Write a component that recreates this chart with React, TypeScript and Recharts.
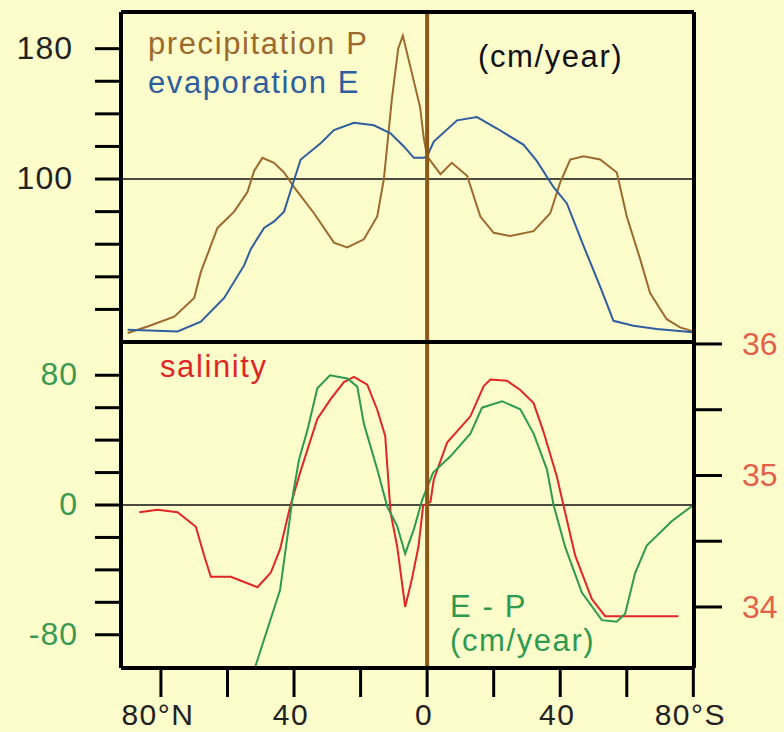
import { LineChart, Line, XAxis, YAxis, ReferenceLine } from 'recharts'

// latitude: negative = north, positive = south
const precipLat = [-90, -84, -76, -70, -68, -63, -58, -54, -52, -49.5, -46, -43, -40, -34, -28, -24, -19, -15, -13, -10.6, -8.7, -7.3, -2.1, -1, 0, 4, 7.4, 12, 16, 20, 25, 32, 37, 40, 43, 47, 52, 57, 60, 64, 67, 72, 76, 80]
const precipCm = [5.5, 9.5, 15.5, 27, 43, 70, 80, 92, 105, 113, 110, 104, 95, 79, 61, 58, 63, 77, 100, 149, 180, 188, 144, 125, 114, 103, 110, 102, 77, 67, 65, 68, 79, 98, 112, 114, 112, 104, 77, 51, 30, 14, 9, 6.5]

const evapLat = [-90, -75, -68, -61, -55, -53, -49, -46, -43, -41, -38, -32, -28, -22, -16, -11, -7, -4, -1, 0, 2, 9, 15, 21, 29, 33, 38, 42, 47, 52, 56, 62, 69, 80]
const evapCm = [7.5, 6.5, 12.5, 27, 47, 57, 70, 74, 80, 93, 112, 122, 130, 134.5, 133, 128, 120, 113, 113, 114, 123, 136, 138, 131, 121, 111, 95, 85, 59, 34, 13, 10, 8, 6]

const epLat = [-51.7, -44.2, -41.7, -40.2, -38.5, -36, -33, -29.2, -24, -21, -19, -15, -12, -9, -6.6, -4, -1.5, 1.8, 7, 13, 16.5, 22.5, 28, 32, 36, 38, 41.5, 46.5, 52.5, 57, 59.5, 62.5, 66, 73.5, 80]
const epCm = [-100, -52.5, -15, 8, 28, 46, 72, 80, 78, 73, 50, 22, -1, -13, -30, -15, 3, 20, 30, 44, 60, 64, 59, 44, 22, 0, -26, -54, -71, -72, -67, -42, -25, -10, 0]

const salLat = [-86.5, -81, -75, -69.5, -67, -65, -59, -55, -51, -47, -44.2, -41.2, -38.2, -33, -29, -25, -22, -18, -15, -12.6, -11, -9, -6.6, -4.6, -2.6, -1.2, 1, 2, 6, 13, 17, 19, 24, 28, 32, 35, 39, 41, 44.5, 49.5, 53.5, 75.5]
const salPsu = [34.72, 34.74, 34.72, 34.61, 34.39, 34.23, 34.23, 34.19, 34.15, 34.26, 34.44, 34.76, 35.02, 35.43, 35.58, 35.71, 35.75, 35.69, 35.5, 35.3, 34.72, 34.46, 34.0, 34.21, 34.46, 34.77, 34.8, 34.97, 35.25, 35.45, 35.68, 35.73, 35.72, 35.65, 35.55, 35.33, 34.99, 34.77, 34.39, 34.06, 33.93, 33.93]

const latTicks = [-80, -60, -40, -20, 0, 20, 40, 60, 80]
const latLabels: Record<number, string> = { [-80]: '80°N', [-40]: '40', 0: '0', 40: '40', 80: '80°S' }
const cmTicks = [20, 40, 60, 80, 100, 120, 140, 160, 180]
const cmLabels = [100, 180]
const epTicks = [-80, -60, -40, -20, 0, 20, 40, 60, 80]
const epLabels = [-80, 0, 80]
const salTicks = [34, 34.5, 35, 35.5, 36]
const salLabels = [34, 35, 36]

const zip = (xs: number[], ys: number[]) => xs.map((lat, i) => ({ lat, v: ys[i] }))
const precip = zip(precipLat, precipCm)
const evap = zip(evapLat, evapCm)
const ep = zip(epLat, epCm)
const sal = zip(salLat, salPsu)

const BG = '#fdfccb'
const FONT = '"Liberation Sans", Arial, sans-serif'
const LAT_DOMAIN = [-92, 80.2]
const BROWN = '#9c6a2c'
const BLUE = '#2f5e9e'
const GREEN = '#2e9a50'
const RED = '#e02626'
const frame = { stroke: '#000', strokeWidth: 4 }
const tickLine = { stroke: '#000', strokeWidth: 3 }

const LeftTick = ({ x, y, payload, show, color, dx }: any) =>
  show.includes(payload.value) ? (
    <text x={x - dx} y={y + 10} textAnchor="end" fill={color} fontSize={32} fontFamily={FONT} letterSpacing={1}>
      {payload.value}
    </text>
  ) : (
    <g />
  )

const RightTick = ({ x, y, payload }: any) =>
  salLabels.includes(payload.value) ? (
    <text x={x + 20} y={y + 11} textAnchor="start" fill="#e4604a" fontSize={32} fontFamily={FONT}>
      {payload.value}
    </text>
  ) : (
    <g />
  )

const BottomTick = ({ x, y, payload }: any) =>
  latLabels[payload.value] ? (
    <text x={x - 3} y={y + 28} textAnchor="middle" fill="#222" fontSize={30} fontFamily={FONT} letterSpacing={1.5}>
      {latLabels[payload.value]}
    </text>
  ) : (
    <g />
  )

export default function App() {
  return (
    <div style={{ position: 'absolute', left: 0, top: 0, width: 784, height: 732, background: BG, overflow: 'hidden' }}>
      <div style={{ position: 'absolute', left: 0, top: 312 }}>
        <LineChart width={784} height={420} margin={{ top: 30, right: 0, bottom: 0, left: 0 }}>
          <XAxis
            type="number"
            dataKey="lat"
            domain={LAT_DOMAIN}
            allowDataOverflow
            ticks={latTicks}
            height={64}
            tickSize={29}
            tickMargin={0}
            axisLine={false}
            tickLine={tickLine}
            tick={<BottomTick />}
          />
          <YAxis
            yAxisId="ep"
            type="number"
            domain={[-100.5, 100.5]}
            allowDataOverflow
            ticks={epTicks}
            width={121}
            tickSize={26}
            tickMargin={0}
            axisLine={false}
            tickLine={tickLine}
            tick={<LeftTick show={epLabels} color="#3a9a52" dx={17} />}
          />
          <YAxis
            yAxisId="s"
            orientation="right"
            type="number"
            domain={[33.536, 36.015]}
            allowDataOverflow
            ticks={salTicks}
            width={90}
            tickSize={28}
            tickMargin={0}
            axisLine={false}
            tickLine={tickLine}
            tick={<RightTick />}
          />
          <ReferenceLine yAxisId="ep" y={0} stroke="#111" strokeWidth={1.5} />
          <Line yAxisId="s" data={sal} dataKey="v" type="linear" stroke={RED} strokeWidth={2} dot={false} isAnimationActive={false} />
          <Line yAxisId="ep" data={ep} dataKey="v" type="linear" stroke={GREEN} strokeWidth={2} dot={false} isAnimationActive={false} />
          <ReferenceLine yAxisId="ep" x={0} stroke="#8a5818" strokeWidth={4} />
          <ReferenceLine yAxisId="ep" x={LAT_DOMAIN[0]} {...frame} />
          <ReferenceLine yAxisId="ep" x={LAT_DOMAIN[1]} {...frame} />
          <ReferenceLine yAxisId="ep" y={-100.5} {...frame} />
        </LineChart>
      </div>
      <div style={{ position: 'absolute', left: 0, top: 0 }}>
        <LineChart width={784} height={345} margin={{ top: 12, right: 90, bottom: 3, left: 0 }}>
          <XAxis type="number" dataKey="lat" domain={LAT_DOMAIN} allowDataOverflow hide />
          <YAxis
            type="number"
            domain={[0, 202.5]}
            allowDataOverflow
            ticks={cmTicks}
            width={121}
            tickSize={26}
            tickMargin={0}
            axisLine={false}
            tickLine={tickLine}
            tick={<LeftTick show={cmLabels} color="#222" dx={22} />}
          />
          <ReferenceLine y={100} stroke="#111" strokeWidth={1.5} />
          <Line data={precip} dataKey="v" type="linear" stroke={BROWN} strokeWidth={2} dot={false} isAnimationActive={false} />
          <Line data={evap} dataKey="v" type="linear" stroke={BLUE} strokeWidth={2} dot={false} isAnimationActive={false} />
          <ReferenceLine x={0} stroke="#8a5818" strokeWidth={4} />
          <ReferenceLine x={LAT_DOMAIN[0]} {...frame} />
          <ReferenceLine x={LAT_DOMAIN[1]} {...frame} />
          <ReferenceLine y={202.5} {...frame} />
          <ReferenceLine y={0} {...frame} />
        </LineChart>
      </div>
      <svg width={784} height={732} style={{ position: 'absolute', left: 0, top: 0, pointerEvents: 'none' }} fontFamily={FONT} fontSize={31} letterSpacing={1.6}>
        <text x={148} y={54} fill={BROWN}>precipitation P</text>
        <text x={148} y={93} fill={BLUE}>evaporation E</text>
        <text x={478} y={67} fill="#111">(cm/year)</text>
        <text x={160} y={377} fill={RED}>salinity</text>
        <text x={450} y={617} fill={GREEN}>E - P</text>
        <text x={450} y={651} fill={GREEN}>(cm/year)</text>
      </svg>
    </div>
  )
}
